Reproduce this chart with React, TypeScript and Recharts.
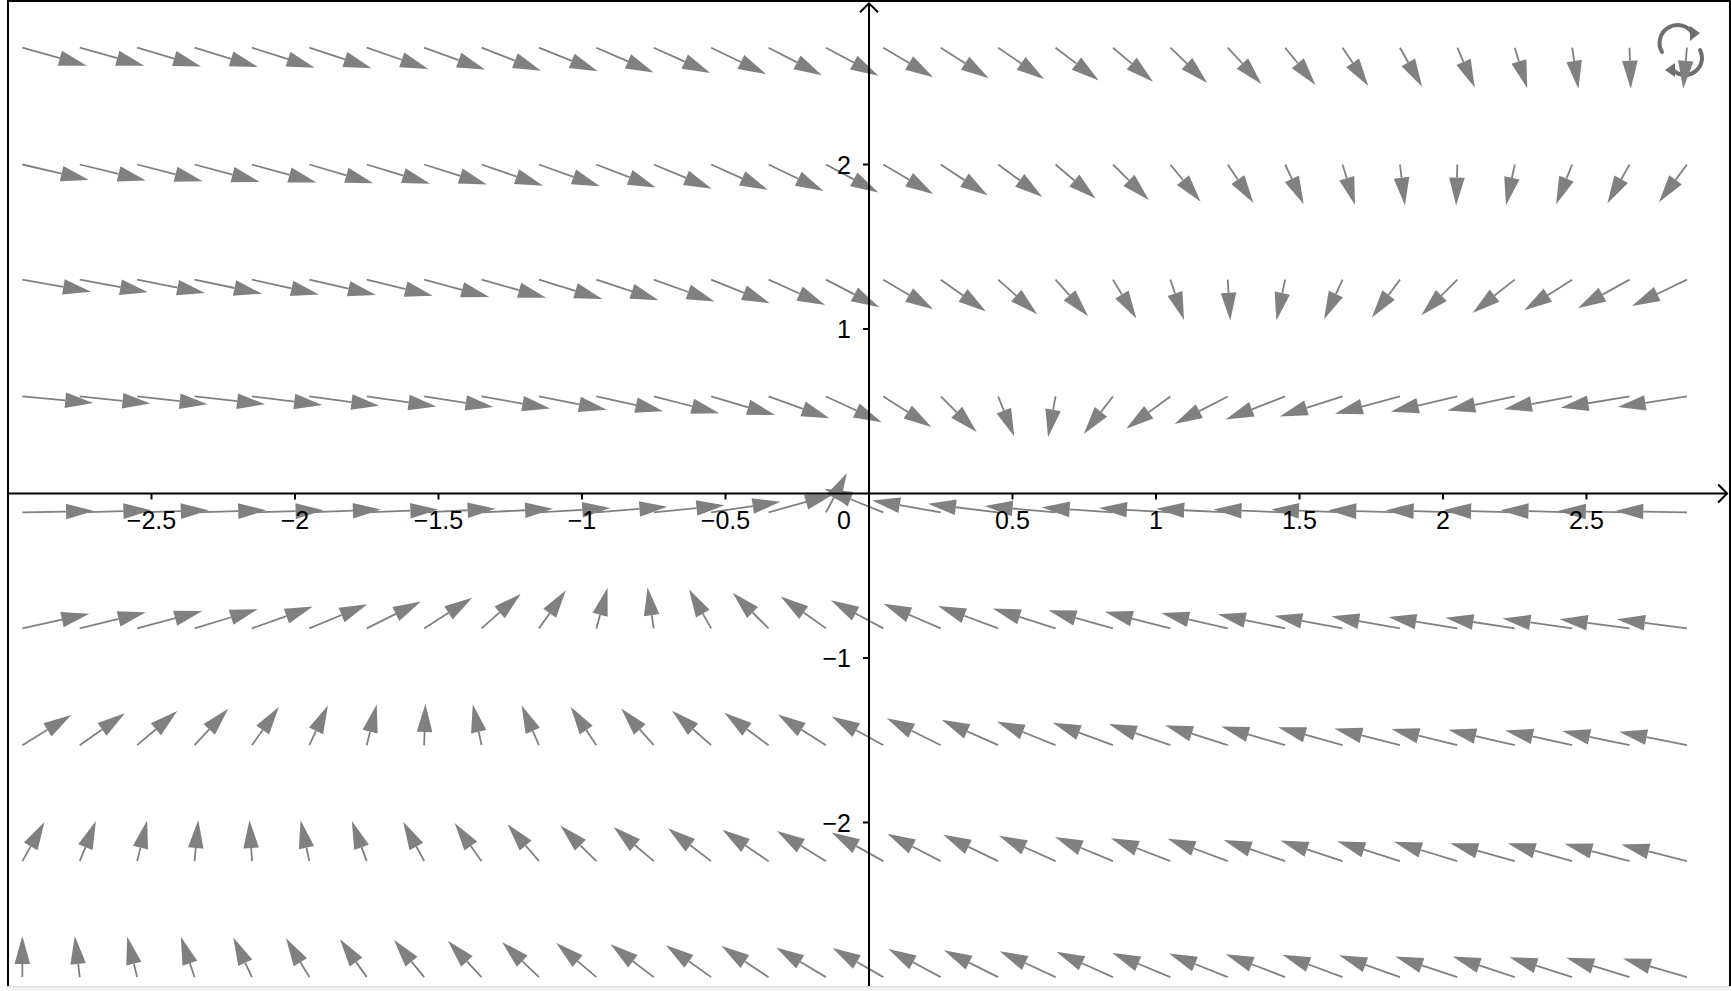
import React from 'react';
import { ComposedChart, XAxis, YAxis, ReferenceLine, ReferenceDot } from 'recharts';

// grid of arrow tails (data units)
const columnX = [
  -2.95, -2.75, -2.55, -2.35, -2.15, -1.95, -1.75, -1.55, -1.35, -1.15,
  -0.95, -0.75, -0.55, -0.35, -0.15, 0.05, 0.25, 0.45, 0.65, 0.85,
  1.05, 1.25, 1.45, 1.65, 1.85, 2.05, 2.25, 2.45, 2.65, 2.85,
];
const rowY = [2.71, 2.0, 1.3, 0.59, -0.115, -0.82, -1.53, -2.235, -2.94];

// arrow directions in degrees, one list per row (top to bottom)
const angles0 = [-26, -26, -27, -28, -29, -30, -31, -32, -34, -35, -37, -38, -40, -42, -43, -46, -48, -50, -53, -56, -59, -62, -65, -69, -72, -76, -80, -85, -89, -93];
const angles1 = [-22, -23, -24, -25, -26, -27, -28, -29, -31, -32, -34, -36, -38, -40, -43, -46, -49, -52, -56, -60, -65, -69, -75, -80, -86, -91, -97, -103, -108, -113];
const angles2 = [-17, -18, -19, -20, -21, -22, -23, -25, -26, -28, -30, -32, -35, -38, -42, -46, -51, -57, -63, -71, -79, -88, -97, -105, -113, -120, -126, -132, -136, -140];
const angles3 = [-9, -10, -11, -11, -12, -13, -14, -15, -17, -19, -21, -24, -27, -32, -39, -48, -60, -77, -96, -114, -128, -138, -146, -151, -155, -158, -160, -162, -164, -165];
const angles4 = [2, 3, 3, 3, 3, 4, 4, 5, 5, 6, 8, 10, 15, 26, 73, 145, 163, 168, 171, 173, 174, 175, 176, 176, 177, 177, 177, 177, 178, 178];
const angles5 = [21, 23, 25, 28, 32, 36, 41, 48, 57, 68, 81, 95, 108, 120, 129, 137, 143, 147, 151, 154, 156, 158, 160, 162, 163, 164, 165, 166, 167, 167];
const angles6 = [47, 51, 56, 62, 68, 75, 82, 89, 97, 104, 111, 117, 123, 128, 132, 136, 139, 142, 145, 147, 149, 151, 153, 154, 156, 157, 158, 159, 160, 161];
const angles7 = [72, 77, 82, 87, 92, 97, 102, 107, 112, 116, 120, 124, 127, 130, 133, 136, 138, 140, 142, 144, 146, 147, 149, 150, 151, 152, 154, 154, 155, 156];
const angles8 = [90, 94, 98, 101, 105, 109, 112, 115, 118, 121, 124, 127, 129, 131, 134, 135, 137, 139, 141, 142, 144, 145, 146, 147, 148, 150, 150, 151, 152, 153];
const rowAngles = [angles0, angles1, angles2, angles3, angles4, angles5, angles6, angles7, angles8];
const ARROW_LEN = 0.25;

const xTicks = [-3, -2.5, -2, -1.5, -1, -0.5, 0.5, 1, 1.5, 2, 2.5];
const xTickLabels = ['', '\u22122.5', '\u22122', '\u22121.5', '\u22121', '\u22120.5', '0.5', '1', '1.5', '2', '2.5'];
const yTicks = [2, 1, -1, -2];
const yTickLabels = ['2', '1', '\u22121', '\u22122'];

const GRAY = '#808080';
const FONT = "'Liberation Sans', Arial, sans-serif";

const ArrowShape = (props: any) => {
  const { x1, y1, x2, y2 } = props;
  const dx = x2 - x1;
  const dy = y2 - y1;
  const len = Math.hypot(dx, dy) || 1;
  const ux = dx / len;
  const uy = dy / len;
  const head = Math.min(28, len * 0.8);
  const bx = x2 - ux * head;
  const by = y2 - uy * head;
  const px = -uy * 7.8;
  const py = ux * 7.8;
  return (
    <g>
      <line x1={x1} y1={y1} x2={bx} y2={by} stroke={GRAY} strokeWidth={1.8} />
      <polygon points={`${x2},${y2} ${bx + px},${by + py} ${bx - px},${by - py}`} fill={GRAY} />
    </g>
  );
};

const AxisShape = (props: any) => {
  const { x1, y1, x2, y2 } = props;
  const dx = x2 - x1;
  const dy = y2 - y1;
  const len = Math.hypot(dx, dy) || 1;
  const ux = dx / len;
  const uy = dy / len;
  const bx = x2 - ux * 9;
  const by = y2 - uy * 9;
  return (
    <g>
      <line x1={x1} y1={y1} x2={x2} y2={y2} stroke="#000" strokeWidth={2} />
      <polyline
        points={`${bx - uy * 9},${by + ux * 9} ${x2},${y2} ${bx + uy * 9},${by - ux * 9}`}
        fill="none"
        stroke="#000"
        strokeWidth={2}
      />
    </g>
  );
};

const RefreshIcon = () => (
  <svg width={50} height={60} style={{ position: 'absolute', left: 1656, top: 20 }}>
    <g stroke="#6e6e6e" strokeWidth={4} fill="none" strokeLinecap="round">
      <path d="M 6 32 A 17 17 0 0 1 37 14" />
      <path d="M 44 30 A 17 17 0 0 1 17 50" />
    </g>
    <polygon points="34,6 34,21 44,13" fill="#6e6e6e" />
    <polygon points="19,43 19,57 9,50" fill="#6e6e6e" />
  </svg>
);

const App: React.FC = () => {
  const arrows: { key: string; tail: { x: number; y: number }; tip: { x: number; y: number } }[] = [];
  rowY.forEach((y, j) => {
    columnX.forEach((x, k) => {
      const a = (rowAngles[j][k] * Math.PI) / 180;
      arrows.push({
        key: `a-${j}-${k}`,
        tail: { x, y },
        tip: { x: x + ARROW_LEN * Math.cos(a), y: y + ARROW_LEN * Math.sin(a) },
      });
    });
  });

  return (
    <div style={{ position: 'absolute', left: 0, top: 0, width: 1731, height: 991, background: '#fff' }}>
      <RefreshIcon />
      <div style={{ position: 'absolute', left: 0, top: 0 }}>
        <ComposedChart width={1731} height={991} margin={{ top: 0, right: 1, bottom: 4, left: 8 }}>
          <XAxis type="number" dataKey="x" domain={[-3, 3]} hide allowDataOverflow />
          <YAxis type="number" dataKey="y" domain={[-3, 3]} hide allowDataOverflow />
          {arrows.map((ar) => (
            <ReferenceLine key={ar.key} segment={[ar.tail, ar.tip]} ifOverflow="visible" shape={ArrowShape} />
          ))}
          <ReferenceLine segment={[{ x: -3, y: 0 }, { x: 2.99, y: 0 }]} ifOverflow="visible" shape={AxisShape} />
          <ReferenceLine segment={[{ x: 0, y: -3 }, { x: 0, y: 2.98 }]} ifOverflow="visible" shape={AxisShape} />
          {xTicks.map((t, i) => (
            <ReferenceDot
              key={`xt-${t}`}
              x={t}
              y={0}
              ifOverflow="visible"
              shape={(p: any) => (
                <g>
                  <line x1={p.cx} y1={p.cy} x2={p.cx} y2={p.cy + 6} stroke="#000" strokeWidth={2} />
                  <text x={p.cx} y={p.cy + 35} textAnchor="middle" fontSize={25} fontFamily={FONT} fill="#000">
                    {xTickLabels[i]}
                  </text>
                </g>
              )}
            />
          ))}
          {yTicks.map((t, i) => (
            <ReferenceDot
              key={`yt-${t}`}
              x={0}
              y={t}
              ifOverflow="visible"
              shape={(p: any) => (
                <g>
                  <line x1={p.cx - 6} y1={p.cy} x2={p.cx} y2={p.cy} stroke="#000" strokeWidth={2} />
                  <text x={p.cx - 18} y={p.cy + 9} textAnchor="end" fontSize={25} fontFamily={FONT} fill="#000">
                    {yTickLabels[i]}
                  </text>
                </g>
              )}
            />
          ))}
          <ReferenceDot
            x={0}
            y={0}
            ifOverflow="visible"
            shape={(p: any) => (
              <text x={p.cx - 25} y={p.cy + 35} textAnchor="middle" fontSize={25} fontFamily={FONT} fill="#000">
                0
              </text>
            )}
          />
        </ComposedChart>
      </div>
      <div style={{ position: 'absolute', left: 7, top: 0, width: 2, height: 986, background: '#000' }} />
      <div style={{ position: 'absolute', left: 7, top: 0, width: 1724, height: 2, background: '#000' }} />
      <div style={{ position: 'absolute', left: 1729, top: 0, width: 2, height: 986, background: '#000' }} />
      <div style={{ position: 'absolute', left: 7, top: 986, width: 1724, height: 5, background: '#f3f3f3', borderTop: '1px solid #dcdcdc' }} />
    </div>
  );
};

export default App;
